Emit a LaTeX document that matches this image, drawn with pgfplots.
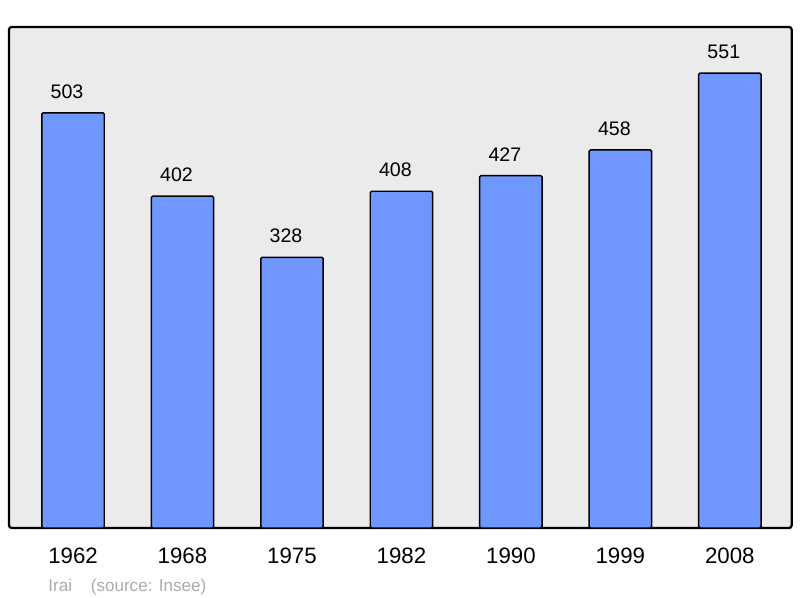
\documentclass[border=0pt]{standalone}
\usepackage{pgfplots}
\pgfplotsset{compat=1.18}
\usepackage{fontspec}
\setmainfont{Liberation Sans}

\definecolor{panel}{HTML}{EBEBEB}
\definecolor{barblue}{HTML}{7097FF}
\definecolor{srcgray}{HTML}{ABABAB}

\begin{document}
\begin{tikzpicture}[x=1pt,y=1pt]
    \begin{axis}[
        at={(0,0)}, anchor=south west,
        scale only axis,
        width  = 587pt,
        height = 375.75pt,
        ybar, bar shift=0pt,
        bar width=0.57,
        xmin=-0.585, xmax=6.565,
        ymin=0, ymax=607,
        xtick=data,
        xticklabels={1962,1968,1975,1982,1990,1999,2008},
        ytick=\empty,
        major tick length=0pt,
        xticklabel style={inner sep=0pt, font=\fontsize{16.7}{18}\selectfont},
        xticklabel shift=15pt,
        /pgf/number format/assume math mode=true,
        axis background/.style={fill=panel, rounded corners=2pt},
        axis line style={line width=1.7pt, rounded corners=2pt},
        nodes near coords,
        every node near coord/.append style={inner sep=0pt, yshift=10.3pt, xshift=-4.5pt,
            font=\fontsize{14.7}{16}\selectfont, black},
        clip=false,
    ]
        \addplot[draw=black, line width=1.1pt, fill=barblue, rounded corners=1pt]
            coordinates {(0,503) (1,402) (2,328) (3,408) (4,427) (5,458) (6,551)};
        \node[anchor=base west, text=srcgray, inner sep=0pt, font=\fontsize{12.8}{14}\selectfont]
            at (rel axis cs:0.05,-0.127) {Irai\hspace{1.1em}(source: Insee)};
    \end{axis}
    \pgfresetboundingbox
    \useasboundingbox (-6.75pt,-52.5pt) rectangle ++(600pt,448.5pt);
\end{tikzpicture}
\end{document}
